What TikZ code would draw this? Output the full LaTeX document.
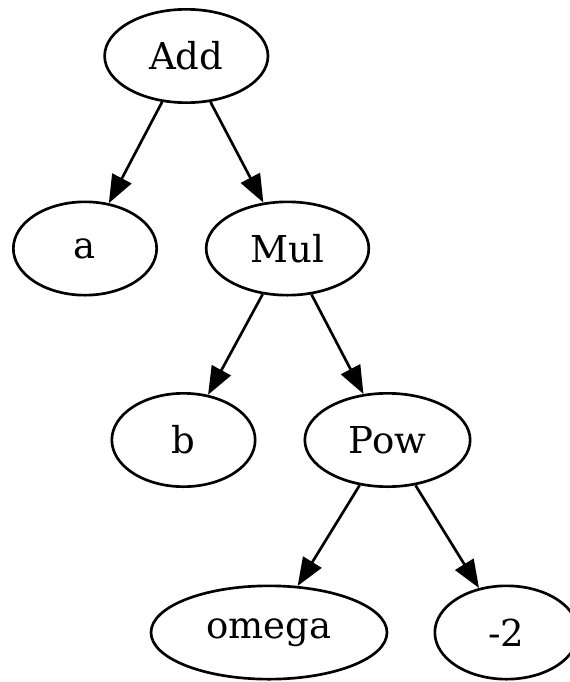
\documentclass[tikz,border=0pt]{standalone}
\usepackage{fontspec}
\setmainfont{DejaVu Serif}
\usetikzlibrary{shapes.geometric,arrows.meta}
\tikzset{
  tnode/.style={ellipse, draw, line width=2pt, inner sep=0pt,
    minimum height=70pt, font=\fontsize{27.8}{32}\selectfont},
  tedge/.style={line width=2pt, -{Triangle[length=21pt,width=16pt]}}
}
\begin{document}
\begin{tikzpicture}[x=0.75pt,y=-0.75pt]
\useasboundingbox (0,0) rectangle (570,682);
\node[tnode, minimum width=122.5pt] (add) at (186.3,56) {Add};
\node[tnode, minimum width=107.5pt] (a) at (85,248.5) {a};
\node[tnode, minimum width=122pt] (mul) at (287.5,248.5) {Mul};
\node[tnode, minimum width=107.5pt] (b) at (183.5,440) {b};
\node[tnode, minimum width=124pt] (pow) at (387.5,440) {Pow};
\node[tnode, minimum width=177pt] (omega) at (269,632.5) {omega};
\node[tnode, minimum width=107.5pt] (m2) at (506.5,632.5) {-2};
\draw[tedge] (add) -- (a);
\draw[tedge] (add) -- (mul);
\draw[tedge] (mul) -- (b);
\draw[tedge] (mul) -- (pow);
\draw[tedge] (pow) -- (omega);
\draw[tedge] (pow) -- (m2);
\end{tikzpicture}
\end{document}
